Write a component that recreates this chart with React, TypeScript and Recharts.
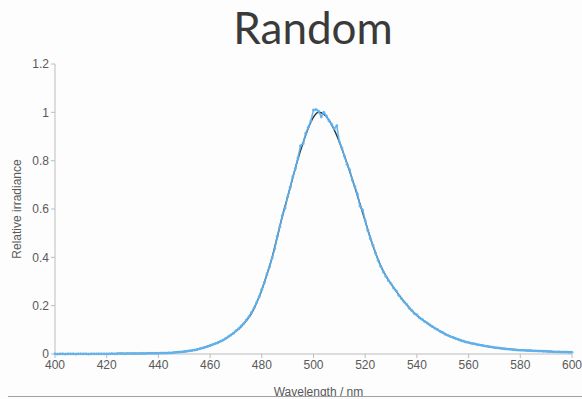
import React from 'react';
import { LineChart, Line, XAxis, YAxis } from 'recharts';

// Fitted spectrum, sampled every 2 nm from 400 nm
const FIT_START_NM = 400;
const FIT_STEP_NM = 2;
const FIT_VALUES = [
  0.000, 0.000, 0.000, 0.001, 0.001, 0.001, 0.001, 0.001, 0.001, 0.001,
  0.001, 0.001, 0.002, 0.002, 0.002, 0.002, 0.002, 0.002, 0.003, 0.003,
  0.003, 0.004, 0.004, 0.006, 0.008, 0.010, 0.013, 0.017, 0.022, 0.028,
  0.035, 0.043, 0.052, 0.064, 0.078, 0.095, 0.113, 0.138, 0.168, 0.212,
  0.265, 0.330, 0.400, 0.485, 0.572, 0.650, 0.730, 0.808, 0.875, 0.935,
  0.980, 1.000, 0.992, 0.968, 0.928, 0.878, 0.818, 0.756, 0.690, 0.620,
  0.550, 0.480, 0.418, 0.365, 0.323, 0.290, 0.260, 0.231, 0.205, 0.180,
  0.160, 0.143, 0.128, 0.113, 0.100, 0.088, 0.077, 0.068, 0.060, 0.053,
  0.047, 0.042, 0.038, 0.034, 0.030, 0.027, 0.024, 0.022, 0.020, 0.018,
  0.016, 0.015, 0.014, 0.013, 0.012, 0.011, 0.010, 0.009, 0.008, 0.008,
  0.007,
];

// Measured spectrum, one reading per nm from 400 nm
const MEASURED_START_NM = 400;
const MEASURED_STEP_NM = 1;
const MEASURED_VALUES = [
  0.001, 0.000, 0.001, 0.001, 0.000, 0.001, 0.001, 0.001, 0.000, 0.001,
  0.001, 0.001, 0.001, 0.000, 0.001, 0.001, 0.001, 0.001, 0.001, 0.001,
  0.001, 0.001, 0.002, 0.001, 0.001, 0.002, 0.002, 0.001, 0.002, 0.002,
  0.002, 0.002, 0.002, 0.002, 0.003, 0.002, 0.003, 0.003, 0.003, 0.003,
  0.003, 0.004, 0.004, 0.004, 0.005, 0.005, 0.006, 0.007, 0.008, 0.009,
  0.010, 0.011, 0.013, 0.015, 0.017, 0.019, 0.022, 0.025, 0.028, 0.031,
  0.035, 0.039, 0.043, 0.047, 0.053, 0.058, 0.064, 0.071, 0.079, 0.086,
  0.096, 0.104, 0.116, 0.126, 0.141, 0.154, 0.172, 0.190, 0.213, 0.238,
  0.268, 0.296, 0.331, 0.361, 0.398, 0.436, 0.487, 0.528, 0.574, 0.604,
  0.651, 0.690, 0.735, 0.768, 0.812, 0.862, 0.871, 0.913, 0.938, 0.965,
  1.010, 1.012, 1.005, 0.982, 1.000, 0.985, 0.965, 0.951, 0.932, 0.945,
  0.878, 0.852, 0.818, 0.785, 0.762, 0.720, 0.693, 0.662, 0.612, 0.596,
  0.552, 0.512, 0.478, 0.450, 0.418, 0.388, 0.363, 0.340, 0.322, 0.304,
  0.291, 0.273, 0.262, 0.243, 0.230, 0.216, 0.206, 0.190, 0.181, 0.168,
  0.162, 0.150, 0.144, 0.134, 0.128, 0.121, 0.114, 0.107, 0.101, 0.094,
  0.089, 0.082, 0.078, 0.072, 0.069, 0.064, 0.061, 0.057, 0.054, 0.050,
  0.048, 0.045, 0.043, 0.040, 0.038, 0.036, 0.034, 0.032, 0.031, 0.029,
  0.027, 0.026, 0.025, 0.023, 0.022, 0.021, 0.020, 0.019, 0.018, 0.017,
  0.016, 0.016, 0.015, 0.014, 0.014, 0.013, 0.013, 0.012, 0.012, 0.011,
  0.011, 0.010, 0.010, 0.009, 0.009, 0.009, 0.008, 0.008, 0.008, 0.007,
  0.007,
];

const X_TICKS = [400, 420, 440, 460, 480, 500, 520, 540, 560, 580, 600];
const Y_TICKS = [0, 0.2, 0.4, 0.6, 0.8, 1, 1.2];

const fitData = FIT_VALUES.map((v, i) => ({ nm: FIT_START_NM + i * FIT_STEP_NM, value: v }));
const measuredData = MEASURED_VALUES.map((v, i) => ({
  nm: MEASURED_START_NM + i * MEASURED_STEP_NM,
  value: v,
}));

const AXIS = '#bdbdbd';
const TEXT = '#595959';
const BLUE = '#5fb3f0';
const FONT = '"Liberation Sans", Arial, sans-serif';

export default function App() {
  return (
    <div
      style={{
        position: 'absolute',
        left: 0,
        top: 0,
        width: 582,
        height: 399,
        background: '#fdfdfd',
        overflow: 'hidden',
        fontFamily: FONT,
      }}
    >
      <div
        style={{
          position: 'absolute',
          left: 313,
          top: 5,
          transform: 'translateX(-50%)',
          fontFamily: 'Lato, "Open Sans", sans-serif',
          fontSize: 44,
          lineHeight: '44px',
          color: '#3a3a3a',
          whiteSpace: 'nowrap',
        }}
      >
        Random
      </div>
      <LineChart
        width={582}
        height={399}
        margin={{ top: 64, right: 10, left: 0, bottom: 0 }}
        style={{ position: 'absolute', left: 0, top: 0 }}
      >
        <XAxis
          dataKey="nm"
          type="number"
          domain={[400, 600]}
          ticks={X_TICKS}
          allowDuplicatedCategory={false}
          height={45}
          stroke={AXIS}
          tickSize={4}
          tick={{ fill: TEXT, fontSize: 12, fontFamily: FONT }}
          label={{
            value: 'Wavelength / nm',
            position: 'insideBottom',
            offset: 3,
            dx: 5,
            fill: TEXT,
            fontSize: 12,
            fontFamily: FONT,
          }}
        />
        <YAxis
          type="number"
          domain={[0, 1.2]}
          ticks={Y_TICKS}
          width={55}
          stroke={AXIS}
          tickSize={4}
          tick={{ fill: TEXT, fontSize: 12, fontFamily: FONT }}
          label={{
            value: 'Relative irradiance',
            angle: -90,
            position: 'insideLeft',
            offset: 17,
            style: { textAnchor: 'middle' },
            fill: TEXT,
            fontSize: 12,
            fontFamily: FONT,
          }}
        />
        <Line
          data={fitData}
          dataKey="value"
          type="monotone"
          stroke="#333333"
          strokeWidth={1.5}
          dot={false}
          isAnimationActive={false}
        />
        <Line
          data={measuredData}
          dataKey="value"
          type="linear"
          stroke={BLUE}
          strokeWidth={1.7}
          strokeOpacity={0.9}
          dot={{ r: 1.5, fill: BLUE, fillOpacity: 0.85, stroke: 'none' }}
          isAnimationActive={false}
        />
      </LineChart>
      {/* frame edge running along the bottom */}
      <div
        style={{
          position: 'absolute',
          left: 8,
          top: 396,
          width: 574,
          height: 3,
          background: '#fdfdfd',
          borderTop: '1px solid #a0a0a0',
        }}
      />
    </div>
  );
}
